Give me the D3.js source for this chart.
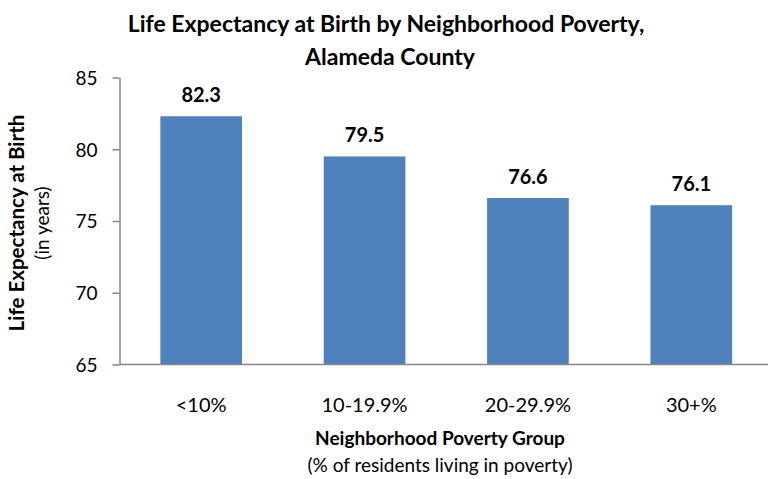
<!doctype html>
<html lang="en">
<head>
  <meta charset="utf-8">
  <title>Life Expectancy by Neighborhood Poverty</title>
  <script src="https://cdn.jsdelivr.net/npm/d3@7"></script>
  <style>
    body { margin: 0; background: #fff; }
    svg { display: block; font-family: Lato, "Open Sans", sans-serif; }
    .axis path, .axis line { stroke: #868686; stroke-width: 1.5px; fill: none; }
    .axis text { fill: #000; }
    .title { font-size: 23px; font-weight: bold; }
    .barlabel { font-size: 20px; font-weight: bold; }
  </style>
</head>
<body>
<div id="chart"></div>
<script>
  var categories = ["<10%", "10-19.9%", "20-29.9%", "30+%"];
  var lifeExp = [82.3, 79.5, 76.6, 76.1];
  var yTicks = [65, 70, 75, 80, 85];

  var width = 768, height = 479;
  var plotLeft = 119.5, plotRight = 773, plotTop = 77.5, plotBottom = 364.5;

  var svg = d3.select("#chart").append("svg")
      .attr("width", width)
      .attr("height", height);

  var x = d3.scaleBand()
      .domain(categories)
      .range([plotLeft, plotRight])
      .paddingInner(0.5)
      .paddingOuter(0.25);

  var y = d3.scaleLinear()
      .domain([65, 85])
      .range([plotBottom, plotTop]);

  // bars
  svg.selectAll("rect.bar")
      .data(lifeExp)
    .enter().append("rect")
      .attr("class", "bar")
      .attr("x", function(d, i) { return x(categories[i]); })
      .attr("y", function(d) { return y(d); })
      .attr("width", x.bandwidth())
      .attr("height", function(d) { return plotBottom - y(d); })
      .attr("fill", "#4F81BD");

  // value labels
  svg.selectAll("text.barlabel")
      .data(lifeExp)
    .enter().append("text")
      .attr("class", "barlabel")
      .attr("x", function(d, i) { return x(categories[i]) + x.bandwidth() / 2; })
      .attr("y", function(d) { return y(d) - 14; })
      .attr("text-anchor", "middle")
      .text(function(d) { return d.toFixed(1); });

  // y axis
  var yAxis = svg.append("g")
      .attr("class", "axis")
      .attr("transform", "translate(" + plotLeft + ",0)")
      .call(d3.axisLeft(y).tickValues(yTicks).tickSize(7).tickSizeOuter(0).tickPadding(15));
  yAxis.selectAll("text").attr("font-size", "19px").attr("font-family", "Lato").attr("dy", "0.36em");

  // x baseline
  svg.append("line")
      .attr("x1", plotLeft).attr("x2", width)
      .attr("y1", plotBottom).attr("y2", plotBottom)
      .attr("stroke", "#868686")
      .attr("stroke-width", 1.5);

  // category labels
  svg.selectAll("text.cat")
      .data(categories)
    .enter().append("text")
      .attr("class", "cat")
      .attr("x", function(d) { return x(d) + x.bandwidth() / 2; })
      .attr("y", 412)
      .attr("text-anchor", "middle")
      .attr("font-size", "20px")
      .text(function(d) { return d; });

  // title
  svg.append("text").attr("class", "title")
      .attr("x", 386).attr("y", 32).attr("text-anchor", "middle")
      .text("Life Expectancy at Birth by Neighborhood Poverty,");
  svg.append("text").attr("class", "title")
      .attr("x", 390).attr("y", 65).attr("text-anchor", "middle")
      .text("Alameda County");

  // x axis title
  svg.append("text")
      .attr("x", 440).attr("y", 445).attr("text-anchor", "middle")
      .attr("font-size", "19px").attr("font-weight", "bold")
      .text("Neighborhood Poverty Group");
  svg.append("text")
      .attr("x", 440).attr("y", 472).attr("text-anchor", "middle")
      .attr("font-size", "19px")
      .text("(% of residents living in poverty)");

  // y axis title
  var cy = 223;
  svg.append("text")
      .attr("transform", "translate(24," + cy + ")rotate(-90)")
      .attr("text-anchor", "middle")
      .attr("font-size", "20.5px").attr("font-weight", "bold")
      .text("Life Expectancy  at Birth");
  svg.append("text")
      .attr("transform", "translate(49," + cy + ")rotate(-90)")
      .attr("text-anchor", "middle")
      .attr("font-size", "19px")
      .text("(in years)");
</script>
</body>
</html>
